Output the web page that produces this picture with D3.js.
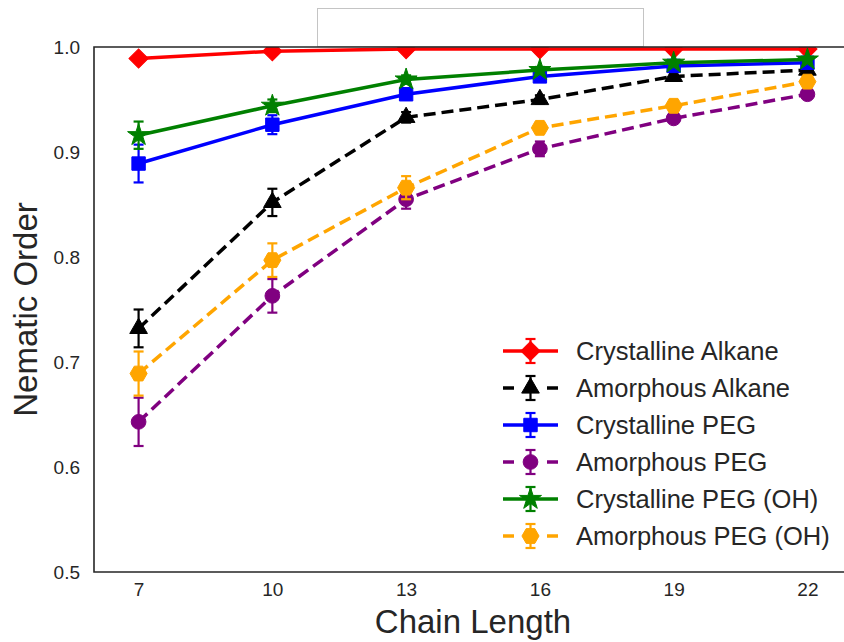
<!DOCTYPE html>
<html>
<head>
<meta charset="utf-8">
<script src="https://cdn.jsdelivr.net/npm/d3@7"></script>
<style>
  body { margin: 0; background: #fff; }
  text { font-family: "Liberation Sans", Arial, sans-serif; fill: #262626; }
</style>
</head>
<body>
<svg id="chart" width="844" height="642"></svg>
<script>
// chain lengths on the x axis
var chainLengths = [7, 10, 13, 16, 19, 22];

var crysAlkane    = [0.989, 0.996, 0.998, 0.998, 0.998, 0.998];
var crysAlkaneErr = [0.002, 0.002, 0.001, 0.001, 0.001, 0.001];
var amorAlkane    = [0.732, 0.852, 0.933, 0.950, 0.972, 0.978];
var amorAlkaneErr = [0.018, 0.013, 0.005, 0.004, 0.004, 0.003];
var crysPEG       = [0.889, 0.926, 0.955, 0.972, 0.982, 0.985];
var crysPEGErr    = [0.018, 0.009, 0.005, 0.003, 0.002, 0.002];
var amorPEG       = [0.643, 0.763, 0.855, 0.903, 0.932, 0.955];
var amorPEGErr    = [0.023, 0.016, 0.009, 0.007, 0.004, 0.003];
var crysPEGOH     = [0.916, 0.944, 0.969, 0.978, 0.985, 0.988];
var crysPEGOHErr  = [0.013, 0.006, 0.004, 0.003, 0.002, 0.002];
var amorPEGOH     = [0.689, 0.797, 0.866, 0.923, 0.944, 0.967];
var amorPEGOHErr  = [0.021, 0.016, 0.011, 0.005, 0.004, 0.004];

var seriesNames = ["Crystalline Alkane", "Amorphous Alkane", "Crystalline PEG",
                   "Amorphous PEG", "Crystalline PEG (OH)", "Amorphous PEG (OH)"];
var yTicks = [0.5, 0.6, 0.7, 0.8, 0.9, 1.0];

// hexagon marker, d3 has none
var symbolHexagon = {
  draw: function(context, size) {
    var r = Math.sqrt(size / (1.5 * Math.sqrt(3)));
    for (var k = 0; k < 6; k++) {
      var a = k * Math.PI / 3;
      if (k === 0) context.moveTo(r * Math.cos(a), r * Math.sin(a));
      else context.lineTo(r * Math.cos(a), r * Math.sin(a));
    }
    context.closePath();
  }
};

var series = [
  {name: seriesNames[0], values: crysAlkane, err: crysAlkaneErr, color: "red",    dash: null, symbol: d3.symbolSquare, size: 185, rotate: 45},
  {name: seriesNames[1], values: amorAlkane, err: amorAlkaneErr, color: "black",  dash: "12,6", symbol: d3.symbolTriangle, size: 135, rotate: 0},
  {name: seriesNames[2], values: crysPEG,    err: crysPEGErr,    color: "blue",   dash: null, symbol: d3.symbolSquare, size: 180, rotate: 0},
  {name: seriesNames[3], values: amorPEG,    err: amorPEGErr,    color: "purple", dash: "12,6", symbol: d3.symbolCircle, size: 170, rotate: 0},
  {name: seriesNames[4], values: crysPEGOH,  err: crysPEGOHErr,  color: "green",  dash: null, symbol: d3.symbolStar, size: 150, rotate: 0},
  {name: seriesNames[5], values: amorPEGOH,  err: amorPEGOHErr,  color: "orange", dash: "12,6", symbol: symbolHexagon, size: 190, rotate: 0}
];

var margin = {top: 47, left: 94},
    plotW = 758, plotH = 525;

var svg = d3.select("#chart");

// empty title frame above the axes
svg.append("rect")
  .attr("x", 317.5).attr("y", 8.5)
  .attr("width", 326).attr("height", 38)
  .attr("fill", "#fff").attr("stroke", "#c4c4c4").attr("stroke-width", 1);

var x = d3.scaleLinear().domain([6, 23]).range([0, plotW]);
var y = d3.scaleLinear().domain([0.5, 1.0]).range([plotH, 0]);

var g = svg.append("g")
  .attr("transform", "translate(" + margin.left + "," + margin.top + ")");

g.append("clipPath").attr("id", "clip")
  .append("rect").attr("width", plotW).attr("height", plotH);

// axes, no tick marks
var xAxis = g.append("g")
  .attr("transform", "translate(0," + plotH + ")")
  .call(d3.axisBottom(x).tickValues(chainLengths).tickSize(0).tickPadding(11));
xAxis.select(".domain").remove();
xAxis.selectAll("text")
  .attr("font-size", 19).attr("fill", "#262626")
  .attr("font-family", "Liberation Sans Narrow, Liberation Sans, Arial, sans-serif");

var yAxis = g.append("g")
  .call(d3.axisLeft(y).tickValues(yTicks).tickFormat(d3.format(".1f")).tickSize(0).tickPadding(14));
yAxis.select(".domain").remove();
yAxis.selectAll("text").attr("font-size", 19).attr("fill", "#262626")
  .attr("font-family", "Liberation Sans, Arial, sans-serif");

var plot = g.append("g").attr("clip-path", "url(#clip)");

var line = d3.line()
  .x(function(d, i) { return x(chainLengths[i]); })
  .y(function(d) { return y(d); });

series.forEach(function(s) {
  var sg = plot.append("g");

  // error bars
  s.values.forEach(function(v, i) {
    var cx = x(chainLengths[i]);
    var top = y(v + s.err[i]), bot = y(v - s.err[i]);
    sg.append("line").attr("x1", cx).attr("x2", cx).attr("y1", top).attr("y2", bot)
      .attr("stroke", s.color).attr("stroke-width", 2.2);
    [top, bot].forEach(function(cy) {
      sg.append("line").attr("x1", cx - 5).attr("x2", cx + 5).attr("y1", cy).attr("y2", cy)
        .attr("stroke", s.color).attr("stroke-width", 2.2);
    });
  });

  sg.append("path")
    .datum(s.values)
    .attr("d", line)
    .attr("fill", "none")
    .attr("stroke", s.color)
    .attr("stroke-width", 3.5)
    .attr("stroke-dasharray", s.dash);

  sg.selectAll(".mark")
    .data(s.values)
    .enter().append("path")
    .attr("class", "mark")
    .attr("d", d3.symbol().type(s.symbol).size(s.size))
    .attr("transform", function(d, i) {
      return "translate(" + x(chainLengths[i]) + "," + y(d) + ") rotate(" + s.rotate + ")";
    })
    .attr("fill", s.color)
    .attr("stroke", s.color)
    .attr("stroke-width", 1);
});

// frame: left, top, bottom (right edge falls off the canvas)
g.append("path")
  .attr("d", "M" + plotW + ",0H0V" + plotH + "H" + plotW)
  .attr("fill", "none").attr("stroke", "#262626").attr("stroke-width", 1.6);

// axis labels
svg.append("text")
  .attr("x", margin.left + plotW / 2).attr("y", 633)
  .attr("text-anchor", "middle").attr("font-size", 33)
  .text("Chain Length");

svg.append("text")
  .attr("transform", "translate(37," + (margin.top + plotH / 2) + ") rotate(-90)")
  .attr("text-anchor", "middle").attr("font-size", 33)
  .text("Nematic Order");

// legend
var legend = svg.append("g").attr("transform", "translate(503,351)");
series.forEach(function(s, i) {
  var row = legend.append("g").attr("transform", "translate(0," + (i * 37) + ")");
  if (s.dash) {
    row.append("line").attr("x1", 0).attr("x2", 11).attr("stroke", s.color).attr("stroke-width", 3.5);
    row.append("line").attr("x1", 44).attr("x2", 55).attr("stroke", s.color).attr("stroke-width", 3.5);
  } else {
    row.append("line").attr("x1", 0).attr("x2", 55).attr("stroke", s.color).attr("stroke-width", 3.5);
  }
  row.append("line").attr("x1", 27.5).attr("x2", 27.5).attr("y1", -12).attr("y2", 12)
    .attr("stroke", s.color).attr("stroke-width", 2.2);
  [-12, 12].forEach(function(cy) {
    row.append("line").attr("x1", 22.5).attr("x2", 32.5).attr("y1", cy).attr("y2", cy)
      .attr("stroke", s.color).attr("stroke-width", 2.2);
  });
  row.append("path")
    .attr("d", d3.symbol().type(s.symbol).size(s.size))
    .attr("transform", "translate(27.5,0) rotate(" + s.rotate + ")")
    .attr("fill", s.color).attr("stroke", s.color).attr("stroke-width", 1);
  row.append("text")
    .attr("x", 73).attr("y", 0).attr("dy", "0.35em")
    .attr("font-size", 25.5)
    .text(s.name);
});
</script>
</body>
</html>
